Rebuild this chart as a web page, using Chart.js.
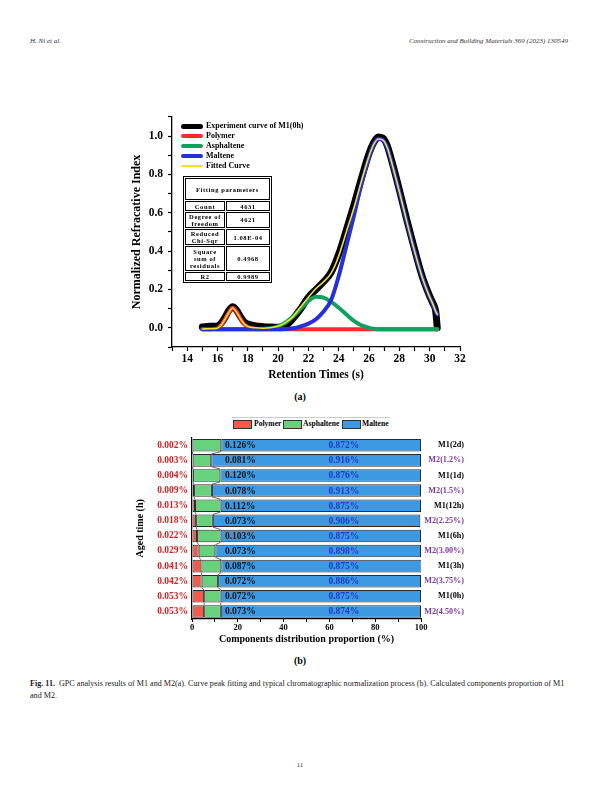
<!DOCTYPE html>
<html>
<head>
<meta charset="utf-8">
<script src="https://cdn.jsdelivr.net/npm/chart.js@4.4.1/dist/chart.umd.min.js"></script>
<style>
  body { margin: 0; width: 600px; height: 799px; background: #fff; position: relative; overflow: hidden;
         font-family: "Liberation Serif", "Times New Roman", serif; }
  .abs { position: absolute; }
  .hdr { top: 37px; font-size: 7px; font-style: italic; color: #333; }
  .lgA { left: 181px; font-size: 8px; font-weight: bold; line-height: 10px; white-space: nowrap; }
  .lgA span { display: inline-block; width: 22px; vertical-align: middle; margin-right: 3px; border-radius: 3px; }
  table.fit { left: 183px; top: 176px; width: 89px; height: 107px; border: 1.5px solid #000; border-collapse: separate;
              border-spacing: 1px; background: #fff; font-size: 6.5px; font-weight: bold; letter-spacing: 0.6px; text-align: center; }
  table.fit td { border: 1.3px solid #000; padding: 0; line-height: 7px; }
  .lgBline { top: 417px; left: 232px; width: 158px; border-top: 1px solid #ccc; }
  .bx { top: 420px; width: 17px; height: 7px; border: 0.8px solid #333; }
  .lgBt { top: 418px; font-size: 7.6px; font-weight: bold; line-height: 11px; white-space: nowrap; }
  .lbl { font-size: 10px; font-weight: bold; width: 600px; text-align: center; }
  .cap { left: 30px; top: 678px; font-size: 8.1px; line-height: 12px; white-space: nowrap; color: #222; }
</style>
</head>
<body>
<div class="abs hdr" style="left:30px">H. Ni et al.</div>
<div class="abs hdr" style="right:32px">Construction and Building Materials 369 (2023) 130549</div>

<canvas id="curveChart" class="abs" style="left:110px;top:105px" width="370" height="285"></canvas>

<div class="abs lgA" style="top:121px"><span style="height:5px;background:#000"></span>Experiment curve of M1(0h)</div>
<div class="abs lgA" style="top:131px"><span style="height:4px;background:#ff2b2b"></span>Polymer</div>
<div class="abs lgA" style="top:141px"><span style="height:4px;background:#12a05e"></span>Asphaltene</div>
<div class="abs lgA" style="top:151px"><span style="height:4px;background:#2430d8"></span>Maltene</div>
<div class="abs lgA" style="top:161px"><span style="height:2px;background:#f4e22a"></span>Fitted Curve</div>

<table class="abs fit">
  <tr style="height:22px"><td colspan="2">Fitting parameters</td></tr>
  <tr style="height:9px"><td style="width:38px">Count</td><td>4631</td></tr>
  <tr style="height:16px"><td>Degree of freedom</td><td>4621</td></tr>
  <tr style="height:16px"><td>Reduced Chi-Sqr</td><td>1.08E-04</td></tr>
  <tr style="height:24px"><td>Square sum of residuals</td><td>0.4968</td></tr>
  <tr style="height:9px"><td>R2</td><td>0.9989</td></tr>
</table>

<div class="abs lbl" style="left:0;top:391px">(a)</div>

<div class="abs lgBline"></div>
<div class="abs bx" style="left:233px;background:#f25b4c"></div><div class="abs lgBt" style="left:254px">Polymer</div>
<div class="abs bx" style="left:283px;background:#67d17c"></div><div class="abs lgBt" style="left:303px">Asphaltene</div>
<div class="abs bx" style="left:342px;background:#3d9ae2"></div><div class="abs lgBt" style="left:362px">Maltene</div>

<canvas id="barChart" class="abs" style="left:110px;top:428px" width="375" height="222"></canvas>

<div class="abs lbl" style="left:0;top:655px">(b)</div>

<div class="abs cap"><b>Fig. 11.</b>&nbsp; GPC analysis results of M1 and M2(a). Curve peak fitting and typical chromatographic normalization process (b). Calculated components proportion of M1<br>and M2.</div>

<div class="abs" style="left:0;width:600px;top:761px;text-align:center;font-size:7px;color:#333">11</div>

<script>
// (a) curve fitting
var times = [15, 15.5, 16, 16.25, 16.5, 16.75, 17, 17.25, 17.5, 17.75, 18, 18.5, 19, 19.5, 20, 20.5, 21, 21.5, 22, 22.5,
             23, 23.5, 24, 24.5, 25, 25.5, 26, 26.3, 26.6, 26.9, 27.2, 27.5, 28, 28.5, 29, 29.5, 30, 30.2, 30.4, 30.5];
var experiment = [0.005, 0.008, 0.01, 0.025, 0.055, 0.09, 0.11, 0.093, 0.06, 0.032, 0.02, 0.01, 0.006, 0.004, 0.003, 0.012, 0.05, 0.1, 0.16, 0.2,
                  0.24, 0.29, 0.385, 0.51, 0.64, 0.78, 0.91, 0.965, 0.995, 0.99, 0.95, 0.87, 0.72, 0.56, 0.41, 0.27, 0.165, 0.13, 0.085, 0.0];
var polymer = [-0.008, -0.007, -0.003, 0.015, 0.045, 0.08, 0.105, 0.085, 0.05, 0.02, 0.004, -0.006, -0.008, -0.008, -0.008, -0.008, -0.008, -0.008, -0.008, -0.008,
               -0.008, -0.008, -0.008, -0.008, -0.008, -0.008, -0.008, -0.008, -0.008, -0.008, -0.008, -0.008, -0.008, -0.008, -0.008, -0.008, -0.008, -0.008, -0.008, -0.008];
var asphaltene = [-0.008, -0.008, -0.008, -0.008, -0.008, -0.008, -0.008, -0.008, -0.008, -0.008, -0.008, -0.008, -0.006, -0.002, 0.008, 0.028, 0.06, 0.1, 0.14, 0.162,
                  0.157, 0.135, 0.105, 0.07, 0.036, 0.013, 0.0, -0.005, -0.008, -0.008, -0.008, -0.008, -0.008, -0.008, -0.008, -0.008, -0.008, -0.008, -0.008, -0.008];
var maltene = [-0.008, -0.008, -0.008, -0.008, -0.008, -0.008, -0.008, -0.008, -0.008, -0.008, -0.008, -0.008, -0.008, -0.008, -0.008, -0.006, -0.002, 0.008, 0.022, 0.045,
               0.085, 0.145, 0.27, 0.425, 0.585, 0.75, 0.89, 0.955, 0.985, 0.98, 0.94, 0.86, 0.71, 0.55, 0.40, 0.265, 0.16, 0.125, 0.085, 0.07];
var fitted = [-0.006, -0.005, -0.002, 0.015, 0.045, 0.08, 0.103, 0.083, 0.05, 0.022, 0.007, 0.0, -0.002, 0.0, 0.008, 0.028, 0.06, 0.11, 0.16, 0.205,
              0.24, 0.285, 0.375, 0.5, 0.625, 0.765, 0.895, 0.955, 0.985, 0.98, 0.94, 0.86, 0.71, 0.55, 0.40, 0.265, 0.16, 0.125, 0.085, 0.07];

// (b) components proportion (fractions, as labelled)
var samples = ["M1(2d)", "M2(1.2%)", "M1(1d)", "M2(1.5%)", "M1(12h)", "M2(2.25%)", "M1(6h)", "M2(3.00%)", "M1(3h)", "M2(3.75%)", "M1(0h)", "M2(4.50%)"];
var polymerShare = [0.002, 0.003, 0.004, 0.009, 0.013, 0.018, 0.022, 0.029, 0.041, 0.042, 0.053, 0.053];
var asphalteneShare = [0.126, 0.081, 0.120, 0.078, 0.112, 0.073, 0.103, 0.073, 0.087, 0.072, 0.072, 0.073];
var malteneShare = [0.872, 0.916, 0.876, 0.913, 0.875, 0.906, 0.875, 0.898, 0.875, 0.886, 0.875, 0.874];

var serif = '"Liberation Serif", "Times New Roman", serif';
Chart.defaults.font.family = serif;
Chart.defaults.font.weight = 'bold';
Chart.defaults.color = '#000';

var pts = (arr) => times.map((t, i) => ({ x: t, y: arr[i] }));
var line = (label, arr, color, width, order) => ({
  label: label, data: pts(arr), borderColor: color, borderWidth: width, order: order,
  pointRadius: 0, cubicInterpolationMode: 'monotone', borderCapStyle: 'round', borderJoinStyle: 'round', fill: false
});

new Chart(document.getElementById('curveChart'), {
  type: 'line',
  data: {
    datasets: [
      line('Experiment curve of M1(0h)', experiment, '#000', 7, 5),
      line('Polymer', polymer, '#ff2b2b', 4, 4),
      line('Asphaltene', asphaltene, '#12a05e', 4, 3),
      line('Maltene', maltene, '#2430d8', 4, 2),
      line('Fitted Curve', fitted, '#f4e22a', 1.6, 1)
    ]
  },
  options: {
    responsive: false,
    animation: false,
    layout: { padding: { left: 20, top: 7, right: 20, bottom: 0 } },
    plugins: { legend: { display: false }, tooltip: { enabled: false } },
    scales: {
      x: {
        type: 'linear', min: 13, max: 32,
        afterFit: (s) => { s.height = 43; },
        border: { color: '#000', width: 1.3 },
        grid: { drawOnChartArea: false, color: '#000', tickLength: 4, tickWidth: 1.2 },
        ticks: { stepSize: 1, autoSkip: false, maxRotation: 0, padding: 1, font: { size: 11.5 },
                 callback: (v) => v % 2 === 0 ? v : '' },
        title: { display: true, text: 'Retention Times (s)', font: { size: 11.5 }, padding: { top: 0, bottom: 8 } }
      },
      y: {
        min: -0.1, max: 1.1,
        afterFit: (s) => { s.width = 42; },
        border: { color: '#000', width: 1.3 },
        grid: { drawOnChartArea: false, color: '#000', tickLength: 4, tickWidth: 1.2 },
        ticks: { stepSize: 0.1, autoSkip: false, padding: 5, font: { size: 11.5 },
                 callback: (v) => { var k = Math.round(v * 10); return (k >= 0 && k <= 10 && k % 2 === 0) ? (k / 10).toFixed(1) : ''; } },
        title: { display: true, text: 'Normalized Refracative Index', font: { size: 12 }, padding: { top: 0, bottom: 0 } }
      }
    }
  }
});

// series lines between neighbouring bars + value labels inside the bars
var barExtras = {
  id: 'barExtras',
  afterDatasetsDraw: (chart) => {
    var ctx = chart.ctx;
    var xs = chart.scales.x;
    ctx.save();
    ctx.strokeStyle = '#444';
    ctx.lineWidth = 0.8;
    [0, 1].forEach((d) => {
      var bars = chart.getDatasetMeta(d).data;
      for (var i = 0; i < bars.length - 1; i++) {
        ctx.beginPath();
        ctx.moveTo(bars[i].x, bars[i].y + bars[i].height / 2);
        ctx.lineTo(bars[i + 1].x, bars[i + 1].y - bars[i + 1].height / 2);
        ctx.stroke();
      }
    });
    ctx.font = 'bold 9.5px ' + serif;
    ctx.textBaseline = 'middle';
    chart.getDatasetMeta(2).data.forEach((bar, i) => {
      ctx.fillStyle = '#111';
      ctx.textAlign = 'left';
      ctx.fillText(asphalteneShare[i].toFixed(3) + '%', xs.getPixelForValue(14.4), bar.y + 0.5);
      ctx.fillStyle = '#1a3cc8';
      ctx.textAlign = 'center';
      ctx.fillText(malteneShare[i].toFixed(3) + '%', xs.getPixelForValue(66.3), bar.y + 0.5);
    });
    ctx.restore();
  }
};

var barSet = (label, arr, color) => ({
  label: label, data: arr.map((v) => v * 100), backgroundColor: color,
  borderColor: '#2b2b2b', borderWidth: 1, borderSkipped: false,
  barPercentage: 0.83, categoryPercentage: 1
});

new Chart(document.getElementById('barChart'), {
  type: 'bar',
  data: {
    labels: polymerShare.map((v) => v.toFixed(3) + '%'),
    datasets: [
      barSet('Polymer', polymerShare, '#f25b4c'),
      barSet('Asphaltene', asphalteneShare, '#67d17c'),
      barSet('Maltene', malteneShare, '#3d9ae2')
    ]
  },
  plugins: [barExtras],
  options: {
    indexAxis: 'y',
    responsive: false,
    animation: false,
    layout: { padding: { left: 21, top: 7, right: 21, bottom: 0 } },
    plugins: { legend: { display: false }, tooltip: { enabled: false } },
    scales: {
      x: {
        stacked: true, min: 0, max: 100,
        afterFit: (s) => { s.height = 31; },
        border: { color: '#000', width: 1.2 },
        grid: { drawOnChartArea: false, color: '#000', tickLength: 3 },
        ticks: { stepSize: 10, autoSkip: false, maxRotation: 0, padding: 1, font: { size: 8.5 },
                 callback: (v) => v % 20 === 0 ? v : '' },
        title: { display: true, text: 'Components distribution proportion (%)', font: { size: 10 }, padding: { top: 0, bottom: 5 } }
      },
      y: {
        stacked: true,
        afterFit: (s) => { s.width = 61; },
        border: { color: '#000', width: 1.2 },
        grid: { display: false, drawTicks: false },
        ticks: { padding: 4, autoSkip: false, color: '#d61f1f', font: { size: 9.5 } },
        title: { display: true, text: 'Aged time (h)', font: { size: 10 }, padding: { top: 3, bottom: 0 } }
      },
      y2: {
        type: 'category', position: 'right', labels: samples, offset: true,
        afterFit: (s) => { s.width = 43; },
        border: { display: false },
        grid: { display: false, drawTicks: false },
        ticks: { crossAlign: 'far', autoSkip: false, font: { size: 8.2 },
                 color: (c) => samples[c.index].indexOf('M2') === 0 ? '#7a3c9c' : '#000' }
      }
    }
  }
});
</script>
</body>
</html>
